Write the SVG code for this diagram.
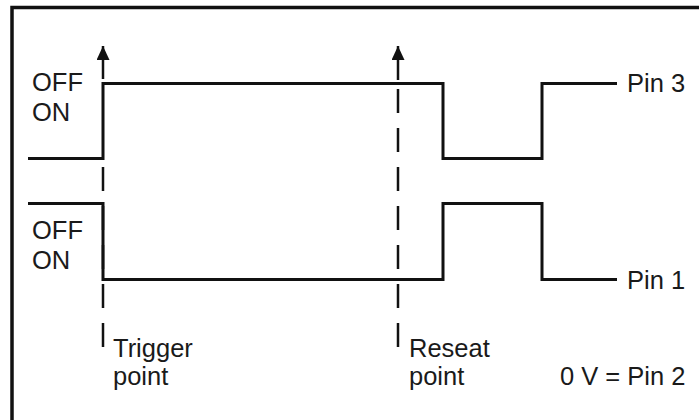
<svg xmlns="http://www.w3.org/2000/svg" width="699" height="420" viewBox="0 0 699 420">
<defs>
<style>
.t{font-family:"Liberation Sans",Arial,sans-serif;font-size:25.5px;fill:#1a1a1a}
.w{fill:none;stroke:#111;stroke-width:3;stroke-linejoin:miter}
.d{fill:none;stroke:#111;stroke-width:2.5;stroke-dasharray:24 15}
.s{fill:none;stroke:#111;stroke-width:2.5}
</style>
<marker id="ah" viewBox="0 0 14 13" refX="14" refY="6.5" markerWidth="14" markerHeight="13" markerUnits="userSpaceOnUse" orient="auto">
<path d="M0 0 L14 6.5 L0 13 Z" fill="#111"/>
</marker>
</defs>
<rect width="699" height="420" fill="#fff"/>
<g id="frame">
<path d="M12 420 V7.5 H699" fill="none" stroke="#111" stroke-width="3.5"/>
</g>
<g id="connectors">
<path class="s" d="M103 79 V46" marker-end="url(#ah)"/>
<path class="s" d="M398 80 V46" marker-end="url(#ah)"/>
<path class="d" d="M103 347 V160"/>
<path class="d" d="M398 347 V86"/>
</g>
<g id="pin3">
<path class="w" d="M28 158.5 H103 V83.5 H443 V158.5 H542 V83.5 H617"/>
<text class="t" x="627" y="92">Pin 3</text>
</g>
<g id="pin1">
<path class="w" d="M28 203.5 H103 V279.5 H443 V203.5 H542 V279.5 H617"/>
<text class="t" x="627" y="289">Pin 1</text>
</g>
<g id="labels-top">
<text class="t" x="32" y="91">OFF</text>
<text class="t" x="32" y="121">ON</text>
</g>
<g id="labels-bottom">
<text class="t" x="32" y="239">OFF</text>
<text class="t" x="32" y="269">ON</text>
</g>
<g id="trigger">
<text class="t" x="113" y="357">Trigger</text>
<text class="t" x="113" y="385">point</text>
</g>
<g id="reseat">
<text class="t" x="409" y="357">Reseat</text>
<text class="t" x="409" y="385">point</text>
</g>
<g id="ground">
<text class="t" x="560" y="385">0 V = Pin 2</text>
</g>
</svg>
